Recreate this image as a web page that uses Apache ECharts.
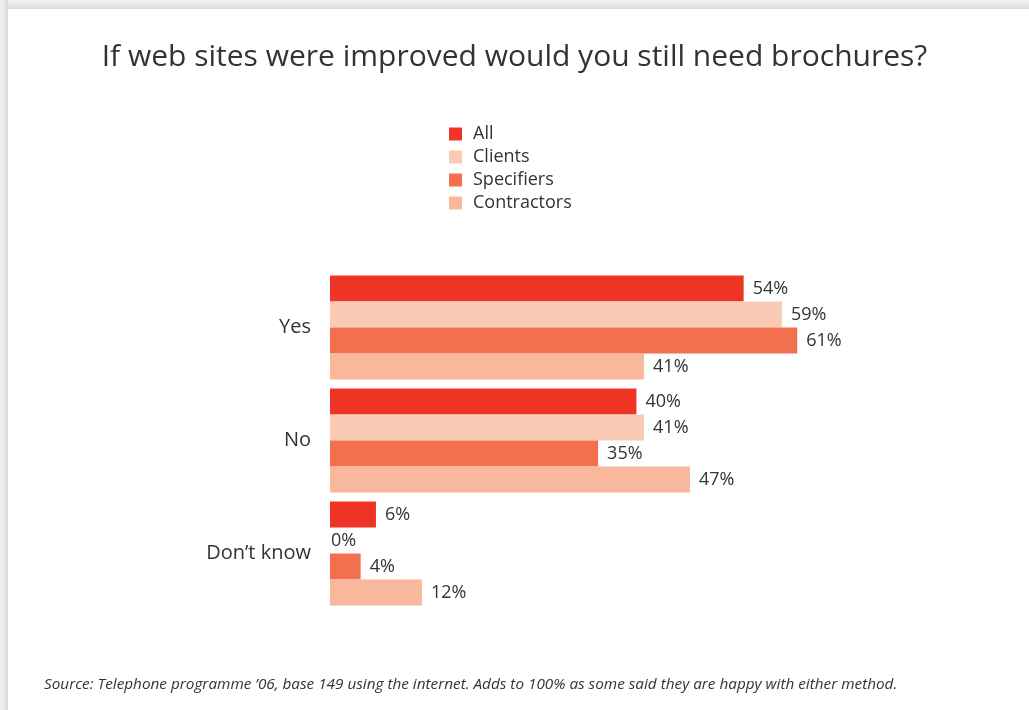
<!DOCTYPE html>
<html>
<head>
<meta charset="utf-8">
<script src="https://cdn.jsdelivr.net/npm/echarts@6/dist/echarts.min.js"></script>
<style>
  html, body { margin: 0; padding: 0; background: #ffffff; }
  #frame { position: relative; width: 1029px; height: 710px; overflow: hidden; background: #ffffff; }
  #edgeTop { position: absolute; left: 0; top: 0; width: 1029px; height: 9px;
    background: linear-gradient(to bottom, #f1f1f1, #e4e4e4 70%, #d9d9d9); }
  #edgeLeft { position: absolute; left: 0; top: 0; width: 8px; height: 710px;
    background: linear-gradient(to right, #f1f1f1, #e4e4e4 70%, #d9d9d9); }
  #chart { position: absolute; left: 0; top: 0; width: 1029px; height: 710px; }
</style>
</head>
<body>
<div id="frame">
  <div id="edgeTop"></div>
  <div id="edgeLeft"></div>
  <div id="chart"></div>
</div>
<script>
// Survey answers, percent of respondents per group
const categories = ['Yes', 'No', 'Don\u2019t know'];
const seriesNames = ['All', 'Clients', 'Specifiers', 'Contractors'];
const allValues = [54, 40, 6];
const clientValues = [59, 41, 0];
const specifierValues = [61, 35, 4];
const contractorValues = [41, 47, 12];

const seriesValues = [allValues, clientValues, specifierValues, contractorValues];
const colors = ['#EE3424', '#FACBB4', '#F2704E', '#F9B89C'];
const font = '"Open Sans", "Noto Sans", sans-serif';
const textColor = '#333333';

const chart = echarts.init(document.getElementById('chart'), null, { renderer: 'canvas' });

const series = seriesNames.map((name, i) => ({
  name: name,
  type: 'bar',
  barGap: '0%',
  barCategoryGap: '8%',
  itemStyle: { color: colors[i] },
  data: seriesValues[i].map(v => ({
    value: v,
    label: { distance: v === 0 ? 1 : 9 }
  })),
  label: {
    show: true,
    position: 'right',
    formatter: '{c}%',
    fontFamily: font,
    fontSize: 18,
    color: textColor
  }
}));

chart.setOption({
  animation: false,
  title: {
    text: 'If web sites were improved would you still need brochures?',
    left: 'center',
    top: 37,
    textStyle: { fontFamily: font, fontSize: 30, fontWeight: 'normal', color: textColor }
  },
  legend: {
    orient: 'vertical',
    left: 444,
    top: 120,
    itemWidth: 13,
    itemHeight: 13,
    itemGap: 5,
    icon: 'rect',
    data: seriesNames,
    textStyle: { fontFamily: font, fontSize: 18, color: textColor, padding: [0, 0, 0, 6] }
  },
  grid: {
    left: 330,
    top: 271,
    width: 80 * 7.66,
    height: 339,
    containLabel: false
  },
  xAxis: {
    type: 'value',
    min: 0,
    max: 80,
    show: false
  },
  yAxis: {
    type: 'category',
    inverse: true,
    data: categories,
    axisLine: { show: false },
    axisTick: { show: false },
    axisLabel: { margin: 19, fontFamily: font, fontSize: 20, color: textColor }
  },
  graphic: [{
    type: 'text',
    left: 44,
    top: 677,
    style: {
      text: 'Source: Telephone programme \u201906, base 149 using the internet. Adds to 100% as some said they are happy with either method.',
      font: 'italic 15.3px "Open Sans", "Noto Sans", sans-serif',
      fill: textColor
    }
  }],
  series: series
});
</script>
</body>
</html>
